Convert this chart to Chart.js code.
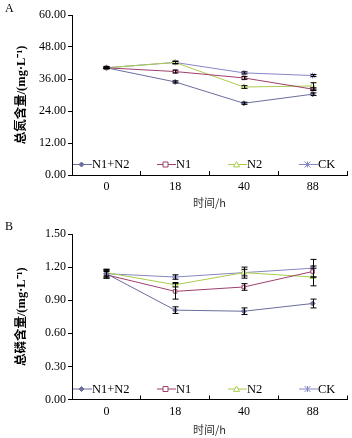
<!DOCTYPE html>
<html><head><meta charset="utf-8">
<script src="https://cdn.jsdelivr.net/npm/chart.js@4/dist/chart.umd.min.js"></script>
<style>
html,body{margin:0;padding:0;background:#fff;width:352px;height:438px;overflow:hidden;}
.wrap{position:absolute;left:0;width:352px;}
.lbl{position:absolute;left:5px;font-family:"Liberation Serif",serif;font-size:12px;color:#000;}
</style></head>
<body>
<div class="wrap" style="top:0;height:210px;"><canvas id="cA" width="352" height="210"></canvas></div>
<div class="wrap" style="top:210px;height:228px;"><canvas id="cB" width="352" height="228"></canvas></div>
<div class="lbl" style="top:1px;">A</div>
<div class="lbl" style="top:219px;">B</div>
<script>
// ---- data ----
const categories = ['0', '18', '40', '88'];
const seriesNames = ['N1+N2', 'N1', 'N2', 'CK'];
const yTicksA = [0, 12, 24, 36, 48, 60];
const yTicksB = [0, 0.3, 0.6, 0.9, 1.2, 1.5];
// A: total nitrogen (mg/L)
const nitrogenN1N2 = [40.2, 34.9, 26.9, 30.3];
const nitrogenN1   = [40.2, 38.8, 36.4, 32.2];
const nitrogenN2   = [40.2, 42.2, 33.0, 33.4];
const nitrogenCK   = [40.2, 42.2, 38.3, 37.3];
const nitrogenErrN1N2 = [0.3, 0.4, 0.4, 0.5];
const nitrogenErrN1   = [0.3, 0.5, 0.5, 0.5];
const nitrogenErrN2   = [0.3, 0.5, 0.5, 1.2];
const nitrogenErrCK   = [0.3, 0.4, 0.4, 0.4];
// B: total phosphorus (mg/L)
const phosN1N2 = [1.14, 0.81, 0.80, 0.87];
const phosN1   = [1.13, 0.98, 1.02, 1.16];
const phosN2   = [1.15, 1.04, 1.15, 1.11];
const phosCK   = [1.14, 1.11, 1.15, 1.19];
const phosErrN1N2 = [0.04, 0.03, 0.03, 0.04];
const phosErrN1   = [0.03, 0.07, 0.03, 0.05];
const phosErrN2   = [0.03, 0.02, 0.03, 0.08];
const phosErrCK   = [0.03, 0.02, 0.05, 0.08];

// ---- styles ----
const colors = ['#6b6d9c', '#9e3f6c', '#a9cc4c', '#8686c6'];
const pointStyles = ['rectRot', 'rect', 'triangle', 'star'];
const pointRadii = [2.5, 2.5, 3, 3];
const serif = '"Liberation Serif","Times New Roman",serif';
const titleFont = '"Liberation Serif","Noto Sans CJK SC",serif';
const cjk = '"Noto Sans CJK SC","Liberation Serif",sans-serif';

function drawMarker(ctx, style, x, y, r, color) {
  ctx.save();
  ctx.strokeStyle = color; ctx.fillStyle = '#fff'; ctx.lineWidth = 1;
  ctx.beginPath();
  if (style === 'rectRot') {
    ctx.moveTo(x, y - r); ctx.lineTo(x + r, y); ctx.lineTo(x, y + r); ctx.lineTo(x - r, y); ctx.closePath();
    ctx.fillStyle = color; ctx.fill(); ctx.stroke();
  } else if (style === 'rect') {
    ctx.rect(x - r, y - r, 2 * r, 2 * r); ctx.fill(); ctx.stroke();
  } else if (style === 'triangle') {
    ctx.moveTo(x, y - r); ctx.lineTo(x + r, y + r * 0.8); ctx.lineTo(x - r, y + r * 0.8); ctx.closePath();
    ctx.fill(); ctx.stroke();
  } else {
    ctx.moveTo(x - r, y - r); ctx.lineTo(x + r, y + r);
    ctx.moveTo(x - r, y + r); ctx.lineTo(x + r, y - r);
    ctx.moveTo(x, y - r); ctx.lineTo(x, y + r);
    ctx.stroke();
  }
  ctx.restore();
}

const errorBarPlugin = {
  id: 'errbars',
  afterDatasetsDraw(chart) {
    const ctx = chart.ctx, ys = chart.scales.y;
    ctx.save();
    ctx.strokeStyle = '#000'; ctx.lineWidth = 1;
    chart.data.datasets.forEach((ds, di) => {
      const meta = chart.getDatasetMeta(di);
      meta.data.forEach((pt, i) => {
        const v = ds.data[i], e = ds.errors[i];
        const yT = ys.getPixelForValue(v + e), yB = ys.getPixelForValue(v - e);
        const x = Math.round(pt.x) + 0.5;
        ctx.beginPath();
        ctx.moveTo(x, yT); ctx.lineTo(x, yB);
        ctx.moveTo(x - 3, yT); ctx.lineTo(x + 3, yT);
        ctx.moveTo(x - 3, yB); ctx.lineTo(x + 3, yB);
        ctx.stroke();
      });
    });
    ctx.restore();
  }
};

const legendOffsets = [1, 85, 156, 227];
const insideLegendPlugin = {
  id: 'insideLegend',
  afterDraw(chart) {
    const ctx = chart.ctx, ca = chart.chartArea;
    const y = ca.bottom - 10.5;
    ctx.save();
    ctx.font = '12.5px ' + serif;
    ctx.textBaseline = 'middle';
    ctx.fillStyle = '#000';
    chart.data.datasets.forEach((ds, i) => {
      const x0 = ca.left + legendOffsets[i];
      ctx.strokeStyle = ds.borderColor; ctx.lineWidth = 1;
      ctx.beginPath(); ctx.moveTo(x0, y); ctx.lineTo(x0 + 19, y); ctx.stroke();
      drawMarker(ctx, ds.pointStyle, x0 + 8.5, y, ds.pointRadius, ds.borderColor);
      ctx.fillStyle = '#000';
      ctx.fillText(ds.label, x0 + 19, y + 0.5);
    });
    ctx.restore();
  }
};

function makeDatasets(values, errs) {
  return values.map((vals, i) => ({
    label: seriesNames[i],
    data: vals,
    errors: errs[i],
    borderColor: colors[i],
    backgroundColor: i === 0 ? colors[i] : '#ffffff',
    pointBackgroundColor: i === 0 ? colors[i] : '#ffffff',
    pointBorderColor: colors[i],
    pointStyle: pointStyles[i],
    pointRadius: pointRadii[i],
    pointBorderWidth: 1,
    borderWidth: 1,
    tension: 0
  }));
}

function makeChart(id, values, errs, ticks, maxV, yTitle, pad, xHeight) {
  return new Chart(document.getElementById(id), {
    type: 'line',
    data: { labels: categories, datasets: makeDatasets(values, errs) },
    options: {
      responsive: false, animation: false,
      layout: { padding: pad },
      plugins: { legend: { display: false }, tooltip: { enabled: false } },
      scales: {
        x: {
          offset: true,
          afterFit: s => { s.height = xHeight; },
          grid: { display: true, drawOnChartArea: false, offset: true, tickLength: -4, color: '#000', tickColor: '#000' },
          border: { color: '#000', width: 1 },
          ticks: { color: '#000', font: { family: serif, size: 12 }, padding: 9 },
          title: { display: true, text: '时间/h', color: '#333', font: { family: cjk, size: 11 }, padding: { top: 1, bottom: 0 } }
        },
        y: {
          min: 0, max: maxV,
          afterBuildTicks: s => { s.ticks = ticks.map(v => ({ value: v })); },
          afterFit: s => { s.width = 72 - pad.left; },
          grid: { display: true, drawOnChartArea: false, tickLength: 4, color: '#000', tickColor: '#000' },
          border: { color: '#000', width: 1 },
          ticks: { color: '#000', font: { family: serif, size: 12 }, padding: 2, callback: v => Number(v).toFixed(2) },
          title: { display: true, text: yTitle, color: '#000', font: { family: titleFont, size: 12.5, weight: 'bold' }, padding: { top: 14, bottom: 4 } }
        }
      }
    },
    plugins: [errorBarPlugin, insideLegendPlugin]
  });
}

makeChart('cA',
  [nitrogenN1N2, nitrogenN1, nitrogenN2, nitrogenCK],
  [nitrogenErrN1N2, nitrogenErrN1, nitrogenErrN2, nitrogenErrCK],
  yTicksA, 60, '总氮含量/(mg·L⁻¹)', { left: 0, right: 2, top: 15, bottom: 1 }, 34);
makeChart('cB',
  [phosN1N2, phosN1, phosN2, phosCK],
  [phosErrN1N2, phosErrN1, phosErrN2, phosErrCK],
  yTicksB, 1.5, '总磷含量/(mg·L⁻¹)', { left: 0, right: 2, top: 24, bottom: 1.5 }, 37);
</script>
</body></html>
